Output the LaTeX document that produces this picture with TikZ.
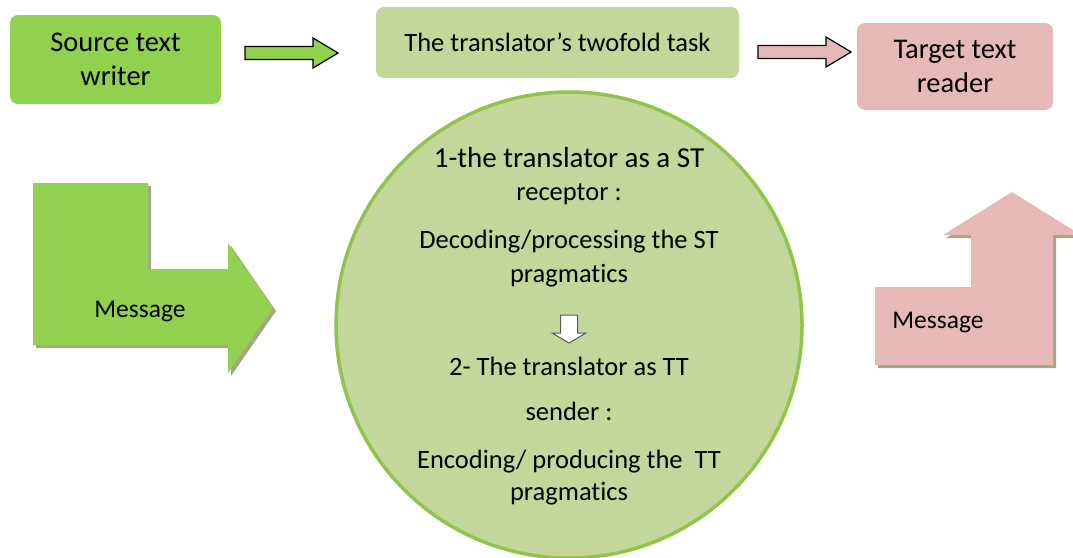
\documentclass[tikz,border=0pt]{standalone}
\usepackage{fontspec}
\setmainfont{Carlito}[Ligatures=NoCommon]
\usetikzlibrary{positioning}

\definecolor{srcgreen}{RGB}{146,208,80}
\definecolor{taskgreen}{RGB}{196,215,155}
\definecolor{tgtpink}{RGB}{230,185,184}
\definecolor{ringgreen}{RGB}{146,196,76}
\definecolor{dropshade}{RGB}{160,168,130}

\tikzset{
  flowarrow/.pic={
    \path[pic actions] (0,-6.5) -- (68,-6.5) -- (68,-15) -- (93,0) -- (68,15)
      -- (68,6.5) -- (0,6.5) -- cycle;
  },
  downarrow/.pic={
    \path[pic actions] (-8.5,0) -- (8.5,0) -- (8.5,18) -- (17,18) -- (0,28)
      -- (-17,18) -- (-8.5,18) -- cycle;
  },
  inarrow/.pic={
    \path[pic actions] (0,0) -- (115,0) -- (115,86) -- (195,86) -- (195,60)
      -- (240,125) -- (195,190) -- (195,162) -- (0,162) -- cycle;
  },
  outarrow/.pic={
    \path[pic actions] (0,0) -- (0,-78) -- (96,-78) -- (96,-130) -- (68,-130)
      -- (137,-173) -- (206,-130) -- (178,-130) -- (178,0) -- cycle;
  }
}

\begin{document}
\begin{tikzpicture}[
  x=1pt, y=-1pt,
  box/.style={
    rectangle,
    rounded corners=8pt,
    align=center,
    inner sep=0pt,
    font=\fontsize{28.5}{34}\selectfont
  },
  flow/.style={draw=black, line width=1.2pt},
  txt/.style={anchor=base, font=\fontsize{26.5}{31}\selectfont}
]

\clip (0,0) rectangle (1073,557);

% Top row
\node[box, fill=srcgreen, minimum width=211pt, minimum height=89pt] (src) at (115.5,59.5) {Source text\\writer};
\node[box, fill=taskgreen, minimum width=363pt, minimum height=71pt, font=\fontsize{26.5}{31}\selectfont] (task) at (557.5,42.5) {The translator’s twofold task};
\node[box, fill=tgtpink, minimum width=196pt, minimum height=87pt] (tgt) at (955,66.5) {Target text\\reader};

% Block arrows between the boxes
\pic[flow, fill=srcgreen] at (245,53) {flowarrow};
\pic[flow, fill=tgtpink] at (758,52) {flowarrow};

% Message arrows
\pic[fill=dropshade] at (36,186) {inarrow};
\pic[fill=srcgreen] at (33,183) {inarrow};
\node[txt, font=\fontsize{25.5}{30}\selectfont] (msgin) at (140,317) {Message};

\pic[fill=dropshade] at (878,368) {outarrow};
\pic[fill=tgtpink] at (875,365) {outarrow};
\node[txt, font=\fontsize{25.5}{30}\selectfont] (msgout) at (938,328) {Message};

% The twofold task
\node[circle, draw=ringgreen, line width=3.5pt, fill=taskgreen, minimum size=466pt, inner sep=0pt] (core) at (569,325) {};

\node[txt, font=\fontsize{29}{34}\selectfont] (st1) at (569,167) {1-the translator as a ST};
\node[txt] (st2) at (569,200) {receptor :};
\node[txt] (st3) at (569,248) {Decoding/processing the ST};
\node[txt] (st4) at (569,282) {pragmatics};
\pic[draw=gray!70!black, fill=white, line width=1pt] at (569,315) {downarrow};
\node[txt] (tt1) at (569,375) {2- The translator as TT};
\node[txt] (tt2) at (569,420) {sender :};
\node[txt] (tt3) at (569,468) {Encoding/ producing the \ TT};
\node[txt] (tt4) at (569,500) {pragmatics};

\end{tikzpicture}
\end{document}
